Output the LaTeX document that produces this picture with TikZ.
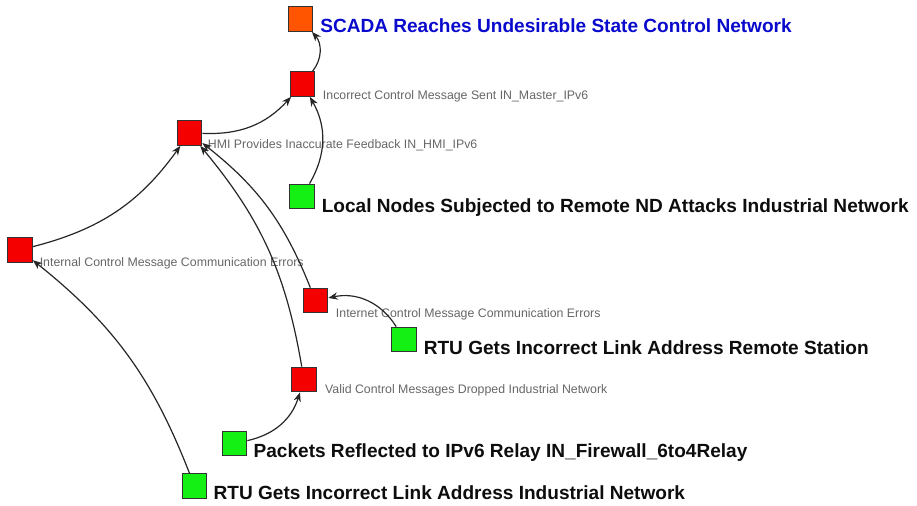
\documentclass[tikz,border=0pt]{standalone}
\usepackage{fontspec}
\setmainfont{Liberation Sans}
\usetikzlibrary{arrows.meta}
\definecolor{boxred}{RGB}{245,0,0}
\definecolor{boxorange}{RGB}{255,85,0}
\definecolor{boxgreen}{RGB}{20,240,20}
\definecolor{goalblue}{RGB}{10,10,205}
\tikzset{
	>={Stealth[length=7pt,width=5.5pt,inset=2.2pt]},
	state/.style={
		rectangle,
		draw=black!80,
		line width=0.8pt,
		inner sep=0pt,
		minimum size=18.5pt},
	fault/.style={state, fill=boxred},
	goal/.style={state, fill=boxorange},
	source/.style={state, fill=boxgreen},
	smalltxt/.style={
		anchor=base west,
		inner sep=0pt,
		text=black!60,
		font=\fontsize{9.25}{11}\selectfont},
	bigtxt/.style={
		anchor=base west,
		inner sep=0pt,
		text=black!95,
		font=\fontsize{14.3}{16}\selectfont\bfseries},
	goaltxt/.style={bigtxt, text=goalblue},
	line/.style={draw, ->, line width=0.9pt, black!85},
}

\begin{document}
\begin{tikzpicture}[x=0.75pt, y=0.75pt]
	\useasboundingbox (0,0) rectangle (917,506);

	% attack states
	\node [goal]   (scada)     at (300.5,487)   {};
	\node [fault]  (incorrect) at (302.5,422)   {};
	\node [fault]  (hmi)       at (189.5,373)   {};
	\node [source] (localn)    at (302,309.5)   {};
	\node [fault]  (internal)  at (20,256)      {};
	\node [fault]  (internet)  at (315.5,205.5) {};
	\node [source] (rturemote) at (404,166.5)   {};
	\node [fault]  (valid)     at (304,126.5)   {};
	\node [source] (packets)   at (234.5,62.5)  {};
	\node [source] (rtuind)    at (194.5,20)    {};

	% labels
	\node [goaltxt]  (scada-l)     at ([xshift=5pt,yshift=-0.8pt]scada.south east)     {SCADA Reaches Undesirable State Control Network};
	\node [smalltxt] (incorrect-l) at ([xshift=5.5pt,yshift=-2.2pt]incorrect.south east) {Incorrect Control Message Sent IN\_Master\_IPv6};
	\node [smalltxt] (hmi-l)       at ([xshift=4pt,yshift=-2.2pt]hmi.south east)        {HMI Provides Inaccurate Feedback IN\_HMI\_IPv6};
	\node [bigtxt]   (localn-l)    at ([xshift=5pt,yshift=-2.2pt]localn.south east)     {Local Nodes Subjected to Remote ND Attacks Industrial Network};
	\node [smalltxt] (internal-l)  at ([xshift=5pt,yshift=-2.8pt]internal.south east)   {Internal Control Message Communication Errors};
	\node [smalltxt] (internet-l)  at ([xshift=5.5pt,yshift=-2.8pt]internet.south east) {Internet Control Message Communication Errors};
	\node [bigtxt]   (rturemote-l) at ([xshift=5pt,yshift=-1.5pt]rturemote.south east)  {RTU Gets Incorrect Link Address Remote Station};
	\node [smalltxt] (valid-l)     at ([xshift=6pt,yshift=-0.8pt]valid.south east)      {Valid Control Messages Dropped Industrial Network};
	\node [bigtxt]   (packets-l)   at ([xshift=4.5pt,yshift=-0.8pt]packets.south east)  {Packets Reflected to IPv6 Relay IN\_Firewall\_6to4Relay};
	\node [bigtxt]   (rtuind-l)    at ([xshift=4.5pt,yshift=-0.8pt]rtuind.south east)   {RTU Gets Incorrect Link Address Industrial Network};

	% edges
	\draw [line] (incorrect) to[bend right=40] (scada);
	\draw [line] (hmi)       to[bend right=25] (incorrect);
	\draw [line] (localn)    to[bend right=30] (incorrect);
	\draw [line] (internal)  to[bend right=20] (hmi);
	\draw [line] (rtuind)    to[bend right=15] (internal);
	\draw [line] (internet)  to[bend right=15] (hmi);
	\draw [line] (valid)     to[bend right=15] (hmi);
	\draw [line] (rturemote) to[bend right=35] (internet);
	\draw [line] (packets)   to[bend right=30] (valid);
\end{tikzpicture}
\end{document}
